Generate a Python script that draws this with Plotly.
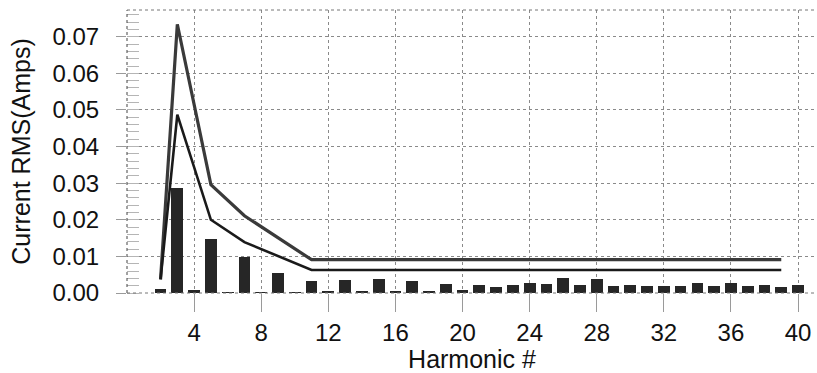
import plotly.graph_objects as go

harmonics = list(range(2, 41))
current_rms = [0.0011, 0.0288, 0.0008, 0.0147, 0.0002, 0.0098, 0.0001, 0.0055, 0.0002, 0.0033,
               0.0005, 0.0035, 0.0005, 0.0037, 0.0006, 0.0032, 0.0006, 0.0025, 0.0008, 0.0022,
               0.0016, 0.0023, 0.0027, 0.0024, 0.0040, 0.0023, 0.0038, 0.0020, 0.0023, 0.0019,
               0.0018, 0.0020, 0.0028, 0.0020, 0.0027, 0.0018, 0.0022, 0.0017, 0.0021]

limit_harmonics = [2, 3, 5, 7, 11, 39]
upper_limit = [0.0037, 0.0734, 0.0296, 0.0211, 0.0091, 0.0091]
lower_limit = [0.0037, 0.0487, 0.0200, 0.0139, 0.0063, 0.0063]

x_ticks = [4, 8, 12, 16, 20, 24, 28, 32, 36, 40]
y_ticks = [0.00, 0.01, 0.02, 0.03, 0.04, 0.05, 0.06, 0.07]

FONT = "Liberation Sans, Arial, sans-serif"

fig = go.Figure()
fig.add_trace(go.Bar(x=harmonics, y=current_rms, width=0.7,
                     marker=dict(color="#262626", line=dict(width=0)),
                     showlegend=False))
fig.add_trace(go.Scatter(x=limit_harmonics, y=upper_limit, mode="lines",
                         line=dict(color="#3a3a3a", width=3.2), showlegend=False))
fig.add_trace(go.Scatter(x=limit_harmonics, y=lower_limit, mode="lines",
                         line=dict(color="#1a1a1a", width=2.6), showlegend=False))

fig.update_layout(
    width=817, height=373,
    margin=dict(l=127, r=0, t=10, b=80),
    paper_bgcolor="white", plot_bgcolor="white",
    font=dict(family=FONT, color="#111"),
    bargap=0,
)
fig.update_xaxes(
    range=[0, 41.13], tickvals=x_ticks, ticktext=[str(v) for v in x_ticks],
    showgrid=True, gridcolor="#8a8a8a", griddash="dot", gridwidth=1,
    ticks="outside", ticklen=18, tickcolor="#9a9a9a", tickwidth=1,
    tickfont=dict(size=24, family=FONT, color="#111"),
    title=dict(text="Harmonic #", font=dict(size=25, family=FONT, color="#111"), standoff=5),
    showline=False, zeroline=False,
)
fig.update_yaxes(
    range=[0, 0.0773], tickvals=y_ticks, ticktext=["%.2f" % v for v in y_ticks],
    showgrid=True, gridcolor="#8a8a8a", griddash="dot", gridwidth=1,
    ticks="outside", ticklen=10, tickcolor="#9a9a9a", tickwidth=1,
    ticklabelstandoff=12,
    minor=dict(dtick=0.002, tick0=0, ticks="inside", ticklen=12, tickcolor="#b5b5b5", showgrid=False),
    tickfont=dict(size=24, family=FONT, color="#111"),
    title=dict(text="Current RMS(Amps)", font=dict(size=25, family=FONT, color="#111"), standoff=14),
    showline=False, zeroline=False,
)
# plot frame (dotted border)
fig.add_shape(type="line", xref="paper", yref="paper", x0=0, x1=0, y0=0, y1=1,
              line=dict(color="#444", width=1, dash="dot"))
fig.add_shape(type="line", xref="paper", yref="paper", x0=0, x1=1, y0=1, y1=1,
              line=dict(color="#777", width=1, dash="dot"))
fig.add_shape(type="line", xref="paper", yref="paper", x0=0, x1=1, y0=0, y1=0,
              line=dict(color="#777", width=1, dash="dot"))

fig.write_html("out.html")
